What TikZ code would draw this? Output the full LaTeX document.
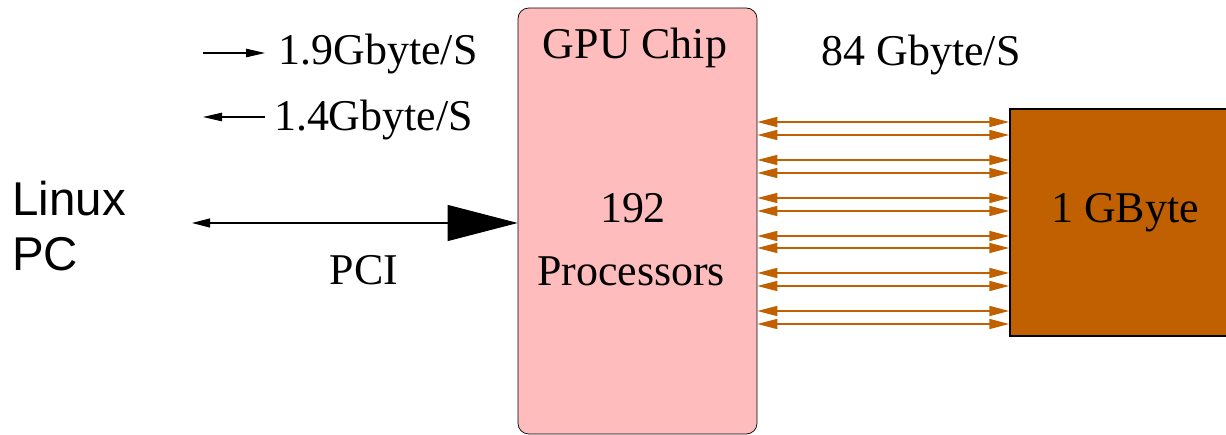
\documentclass[tikz,border=0pt]{standalone}
\usepackage{fontspec}
\setmainfont{Liberation Serif}
\setsansfont{Liberation Sans}
\usetikzlibrary{arrows.meta,positioning}
\definecolor{chippink}{RGB}{255,188,188}
\definecolor{rambrown}{RGB}{192,96,0}

\begin{document}
\begin{tikzpicture}[x=0.02cm,y=-0.02cm,
    lbl/.style={font=\fontsize{25}{28}\selectfont,inner sep=0pt},
    busline/.style={rambrown,line width=0.9pt,{Triangle[length=0.4cm,width=0.2cm]}-{Triangle[length=0.4cm,width=0.2cm]}},
    rate/.style={line width=0.6pt,-{Triangle[length=0.38cm,width=0.17cm]}}]
    \useasboundingbox (0,0) rectangle (1226,435);
    % chip and memory
    \node[draw=black,fill=chippink,rounded corners=6pt,minimum width=4.78cm,minimum height=8.52cm,inner sep=0pt] (gpu) at (637.5,221) {};
    \node[draw=black,line width=0.9pt,fill=rambrown,minimum width=4.4cm,minimum height=4.54cm,inner sep=0pt] (ram) at (1120,222.5) {};
    \node[lbl,anchor=base] (chip) at (635,59) {GPU Chip};
    \node[lbl,anchor=base] (cores) at (633,223) {192};
    \node[lbl,anchor=base] (procs) at (631,286) {Processors};
    \node[lbl,anchor=base] (gbyte) at (1125,223) {1 GByte};
    \node[lbl,anchor=base] (bw) at (921,66) {84 Gbyte/S};
    % memory bus
    \foreach \y in {122,135,160,173,198,211,236,248,273,286,311,324}
      \draw[busline] (gpu.east |- 0,\y) -- (ram.west |- 0,\y);
    % host side
    \node[font=\sffamily\fontsize{27}{31.3}\selectfont,align=left,anchor=north west,inner sep=0pt] (pcname) at (12,181) {Linux\\PC};
    \node[lbl,anchor=base] (pci) at (364,285) {PCI};
    \coordinate (host) at (192,223);
    \draw[line width=0.6pt,{Triangle[length=0.36cm,width=0.18cm]}-{Triangle[length=1.4cm,width=0.72cm]}] (host) -- (host -| gpu.west);
    \node[lbl,anchor=base] (up) at (378,65) {1.9Gbyte/S};
    \node[lbl,anchor=base] (down) at (373.5,131) {1.4Gbyte/S};
    \coordinate (upA) at (203,53);
    \coordinate (upB) at (265,53);
    \coordinate (downA) at (265,117);
    \coordinate (downB) at (203,117);
    \draw[rate] (upA) -- (upB);
    \draw[rate] (downA) -- (downB);
\end{tikzpicture}
\end{document}
